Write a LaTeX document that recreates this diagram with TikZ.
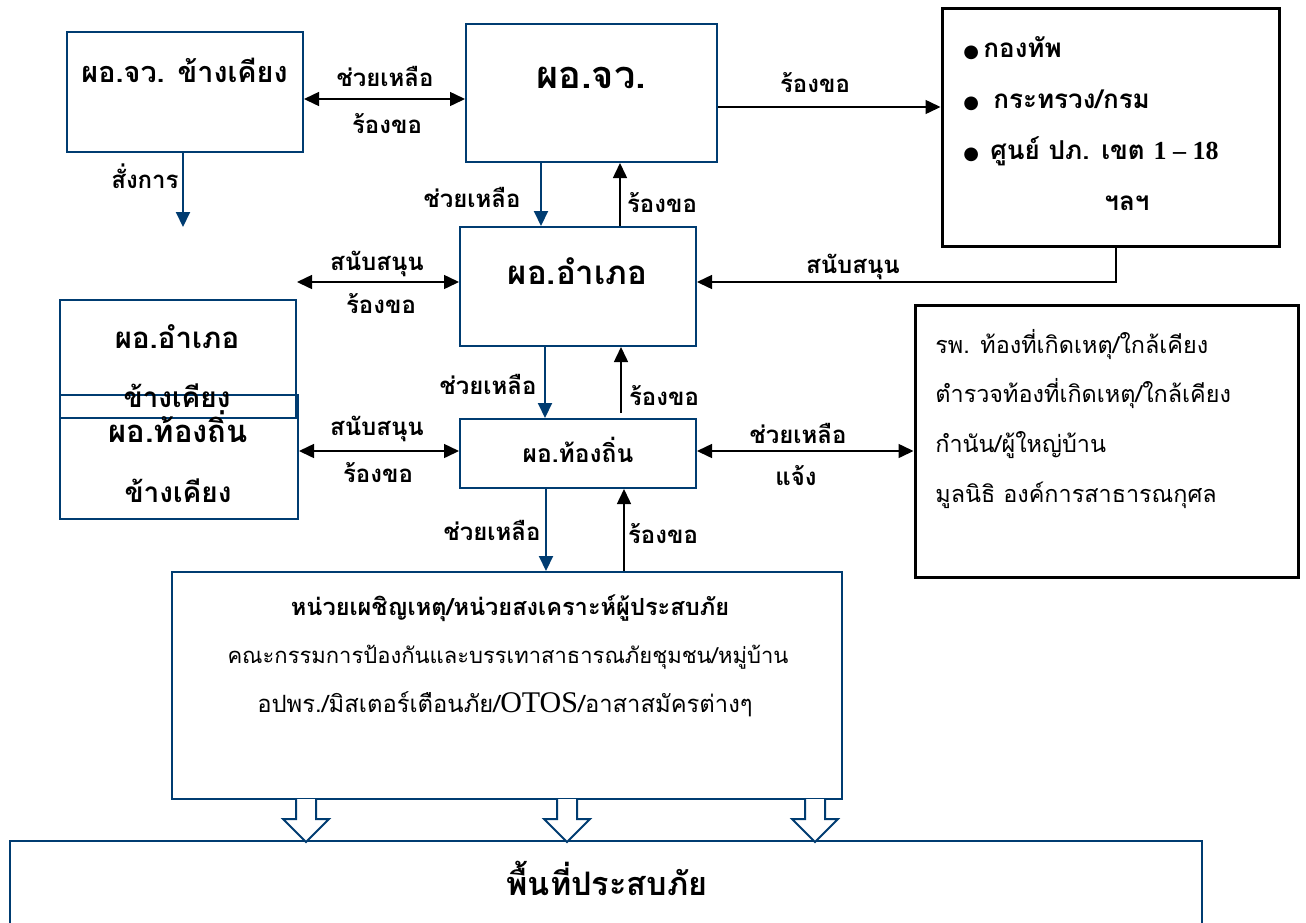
\documentclass[tikz,border=0pt]{standalone}
\usepackage{fontspec}
\setmainfont[Script=Thai]{Loma}
\newfontfamily\latfont{Liberation Serif}
\newfontfamily\symfont{DejaVu Sans}
\usetikzlibrary{arrows.meta}
\definecolor{navy}{RGB}{0,60,113}
\newcommand{\fs}[1]{\fontsize{#1}{#1}\selectfont}
\newcommand{\blt}{{\symfont\fs{9}●}}
\tikzset{
  box/.style={draw=navy, line width=1pt, inner sep=0pt},
  blackbox/.style={draw=black, line width=1.5pt, inner sep=0pt},
  txt/.style={inner sep=0pt, anchor=base},
  lbl/.style={txt, font=\bfseries\fs{12}},
  bluearr/.style={navy, line width=1pt, -{Triangle[length=7.5pt,width=7pt]}},
  blackarr/.style={black, line width=0.75pt, -{Triangle[length=7.5pt,width=7pt]}},
  botharr/.style={black, line width=0.75pt, {Triangle[length=7.5pt,width=7pt]}-{Triangle[length=7.5pt,width=7pt]}},
}
\begin{document}
\begin{tikzpicture}[x=0.5pt,y=-0.5pt]
\useasboundingbox (0,0) rectangle (1306,922);
\clip (0,0) rectangle (1306,922);
% boxes
\node[box, minimum width=118pt, minimum height=60pt] (nbjv) at (185,92) {};
\node[box, minimum width=125.5pt, minimum height=69pt] (jv) at (591.5,93) {};
\node[blackbox, minimum width=168.5pt, minimum height=119pt] (org) at (1110.5,127) {};
\node[box, minimum width=118pt, minimum height=59.5pt] (amp) at (578,286.5) {};
\node[box, minimum width=118pt, minimum height=59pt] (nbamp) at (178,359) {};
\node[box, minimum width=119pt, minimum height=62pt] (nbloc) at (179,457) {};
\node[box, minimum width=118pt, minimum height=34.5pt] (loc) at (578,453.5) {};
\node[blackbox, minimum width=191.5pt, minimum height=136pt] (help) at (1106.5,441) {};
\node[box, minimum width=335pt, minimum height=113.5pt] (unit) at (507,685.5) {};
\node[box, minimum width=596pt, minimum height=79.5pt] (area) at (606,920.5) {};
% box texts
\node[txt, font=\bfseries\fs{14.4}] (nbjvT) at (184.5,82) {ผอ.จว. ข้างเคียง};
\node[txt, font=\bfseries\fs{19}] (jvT) at (591,88) {ผอ.จว.};
\node[txt, font=\bfseries\fs{16.5}] (ampT) at (577.5,284) {ผอ.อำเภอ};
\node[txt, font=\bfseries\fs{14.7}] (nbampT1) at (177,348) {ผอ.อำเภอ};
\node[txt, font=\bfseries\fs{14}] (nbampT2) at (177,407) {ข้างเคียง};
\node[txt, font=\bfseries\fs{15.5}] (nblocT1) at (178,442) {ผอ.ท้องถิ่น};
\node[txt, font=\bfseries\fs{14}] (nblocT2) at (178,502) {ข้างเคียง};
\node[txt, font=\bfseries\fs{12.3}] (locT) at (578,462) {ผอ.ท้องถิ่น};
\node[txt, anchor=base west, font=\bfseries\fs{13}] (org1) at (963,57) {\makebox[10pt][l]{\blt}กองทัพ};
\node[txt, anchor=base west, font=\bfseries\fs{13}] (org2) at (963,108) {\makebox[15pt][l]{\blt}กระทรวง/กรม};
\node[txt, anchor=base west, font=\bfseries\fs{13}] (org3) at (963,159) {\makebox[13.5pt][l]{\blt}ศูนย์ ปภ. เขต {\latfont 1 – 18}};
\node[txt, font=\bfseries\fs{13}] (org4) at (1127,210) {ฯลฯ};
\node[txt, anchor=base west, font=\fs{11.7}] (help1) at (935,353) {รพ. ท้องที่เกิดเหตุ/ใกล้เคียง};
\node[txt, anchor=base west, font=\fs{11.7}] (help2) at (935,402) {ตำรวจท้องที่เกิดเหตุ/ใกล้เคียง};
\node[txt, anchor=base west, font=\fs{11.7}] (help3) at (935,452) {กำนัน/ผู้ใหญ่บ้าน};
\node[txt, anchor=base west, font=\fs{11.7}] (help4) at (935,502) {มูลนิธิ องค์การสาธารณกุศล};
\node[txt, font=\bfseries\fs{11.8}] (unit1) at (510,615) {หน่วยเผชิญเหตุ/หน่วยสงเคราะห์ผู้ประสบภัย};
\node[txt, font=\fs{11}] (unit2) at (508,663) {คณะกรรมการป้องกันและบรรเทาสาธารณภัยชุมชน/หมู่บ้าน};
\node[txt, font=\fs{11.9}] (unit3) at (505,712) {อปพร./มิสเตอร์เตือนภัย/{\latfont\fs{15}OTOS}/อาสาสมัครต่างๆ};
\node[txt, font=\bfseries\fs{16.2}] (areaT) at (607,895) {พื้นที่ประสบภัย};
% lanes and rows
\coordinate (laneA) at (541,0);
\coordinate (laneB) at (620,0);
\coordinate (laneC) at (545,0);
\coordinate (laneD) at (621,0);
\coordinate (laneE) at (546,0);
\coordinate (laneF) at (624,0);
\coordinate (laneS) at (1116,0);
\coordinate (rowA) at (0,99);
\coordinate (rowB) at (0,107);
\coordinate (rowS) at (0,282);
\coordinate (rowL) at (0,451);
\coordinate (cmdEnd) at (183,227);
\coordinate (freeL) at (297,282);
% connectors
\draw[botharr] (nbjv.east |- rowA) -- (jv.west |- rowA);
\draw[blackarr] (jv.east |- rowB) -- (org.west |- rowB);
\draw[bluearr] (nbjv.south -| cmdEnd) -- (cmdEnd);
\draw[bluearr] (jv.south -| laneA) -- (amp.north -| laneA);
\draw[blackarr] (amp.north -| laneB) -- (jv.south -| laneB);
\draw[blackarr] (org.south -| laneS) |- (amp.east |- rowS);
\draw[botharr] (freeL) -- (amp.west |- freeL);
\draw[bluearr] (amp.south -| laneC) -- (loc.north -| laneC);
\draw[blackarr] ([yshift=2.5pt]loc.north -| laneD) -- (amp.south -| laneD);
\draw[botharr] (nbloc.east |- rowL) -- (loc.west |- rowL);
\draw[botharr] (loc.east |- rowL) -- (help.west |- rowL);
\draw[bluearr] (loc.south -| laneE) -- (unit.north -| laneE);
\draw[blackarr] (unit.north -| laneF) -- (loc.south -| laneF);
% hollow arrows down to the area
\foreach \x in {306,567,815}
\draw[navy, line width=1pt, fill=white] (\x-10,799) -- (\x-10,819) -- (\x-23,819) -- (\x,842) -- (\x+23,819) -- (\x+10,819) -- (\x+10,799);
% labels
\node[lbl] (l1) at (385,86) {ช่วยเหลือ};
\node[lbl] (l2) at (387,133) {ร้องขอ};
\node[lbl] (l3) at (145,188) {สั่งการ};
\node[lbl] (l4) at (815,92) {ร้องขอ};
\node[lbl] (l5) at (472,207) {ช่วยเหลือ};
\node[lbl] (l6) at (662,212) {ร้องขอ};
\node[lbl] (l7) at (377,270) {สนับสนุน};
\node[lbl] (l8) at (381,313) {ร้องขอ};
\node[lbl] (l9) at (853,273) {สนับสนุน};
\node[lbl] (l10) at (488,394) {ช่วยเหลือ};
\node[lbl] (l11) at (664,405) {ร้องขอ};
\node[lbl] (l12) at (377,435) {สนับสนุน};
\node[lbl] (l13) at (378,482) {ร้องขอ};
\node[lbl] (l14) at (798,443) {ช่วยเหลือ};
\node[lbl] (l15) at (796,485) {แจ้ง};
\node[lbl] (l16) at (492,540) {ช่วยเหลือ};
\node[lbl] (l17) at (663,543) {ร้องขอ};
\end{tikzpicture}
\end{document}
